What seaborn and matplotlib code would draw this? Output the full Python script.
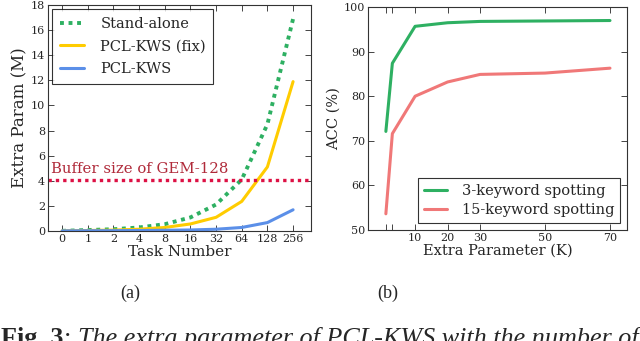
import seaborn as sns
import pandas as pd
import matplotlib
matplotlib.use("Agg")
import matplotlib.pyplot as plt

# panel (a): extra params vs task number
task_labels = ["0", "1", "2", "4", "8", "16", "32", "64", "128", "256"]
stand_alone = [0.0, 0.066, 0.13, 0.27, 0.53, 1.07, 2.1, 4.1, 8.5, 16.9]
pcl_fix = [0.0, 0.03, 0.06, 0.13, 0.27, 0.55, 1.08, 2.35, 5.1, 11.9]
pcl_kws = [0.0, 0.01, 0.015, 0.03, 0.05, 0.07, 0.13, 0.27, 0.66, 1.68]
buffer_gem128 = 4.05

# panel (b): accuracy vs extra parameter
extra_k = [1, 3, 10, 20, 30, 50, 70]
acc_3kw = [72.1, 87.4, 95.7, 96.5, 96.8, 96.9, 97.0]
acc_15kw = [53.6, 71.6, 80.0, 83.2, 84.9, 85.2, 86.3]

sns.set_style("ticks")
plt.rcParams["font.family"] = ["DejaVu Serif"]
plt.rcParams["xtick.direction"] = "in"
plt.rcParams["ytick.direction"] = "in"

fig = plt.figure(figsize=(6.4, 3.41), dpi=100)
ax1 = fig.add_axes([0.075, 0.323, 0.411, 0.662])
ax2 = fig.add_axes([0.575, 0.326, 0.405, 0.653])

pos = list(range(len(task_labels)))
sns.lineplot(x=pos, y=stand_alone, ax=ax1, color="#2eb062", lw=2.8,
             linestyle=(0, (1, 1.2)), label="Stand-alone")
sns.lineplot(x=pos, y=pcl_fix, ax=ax1, color="#ffcc00", lw=2.2, label="PCL-KWS (fix)")
sns.lineplot(x=pos, y=pcl_kws, ax=ax1, color="#5b8fe8", lw=2.2, label="PCL-KWS")
ax1.axhline(buffer_gem128, color="#dd1144", lw=2.4, linestyle=(0, (1, 1.2)))
ax1.text(-0.42, buffer_gem128 + 0.55, "Buffer size of GEM-128", color="#b02a3a", fontsize=10.7)
ax1.set_xlim(-0.55, 9.7)
ax1.set_ylim(0, 18)
ax1.set_xticks(pos)
ax1.set_xticklabels(task_labels)
ax1.set_yticks(range(0, 19, 2))
ax1.set_xlabel("Task Number", fontsize=11, labelpad=1)
ax1.set_ylabel("Extra Param (M)", fontsize=12, labelpad=2)
leg1 = ax1.legend(loc="upper left", fontsize=10.5, fancybox=False, edgecolor="black",
                  handlelength=1.7, handletextpad=1.1, borderaxespad=0.3,
                  labelspacing=0.6, borderpad=0.5)
leg1.get_frame().set_linewidth(0.8)

sns.lineplot(x=extra_k, y=acc_3kw, ax=ax2, color="#2eb062", lw=2.2, label="3-keyword spotting")
sns.lineplot(x=extra_k, y=acc_15kw, ax=ax2, color="#f07878", lw=2.2, label="15-keyword spotting")
ax2.set_xlim(-4.5, 75.3)
ax2.set_ylim(50, 100)
ax2.set_xticks(extra_k)
ax2.set_xticklabels(["", ""] + [str(k) for k in extra_k[2:]])
ax2.set_yticks(range(50, 101, 10))
ax2.set_xlabel("Extra Parameter (K)", fontsize=10.5, labelpad=1)
ax2.set_ylabel("ACC (%)", fontsize=10.5, labelpad=2)
leg2 = ax2.legend(loc="lower right", fontsize=10.5, fancybox=False, edgecolor="black",
                  handlelength=1.6, handletextpad=1.0, borderaxespad=0.5,
                  labelspacing=0.35, borderpad=0.4)
leg2.get_frame().set_linewidth(0.8)

for ax in (ax1, ax2):
    ax.tick_params(labelsize=8, top=True, right=True, length=4, width=0.6, pad=2)
    for s in ax.spines.values():
        s.set_linewidth(0.8)
        s.set_color("#333333")

cap = dict(family="Liberation Serif", fontsize=13)
fig.text(0.203, 0.126, "(a)", ha="center", va="baseline", **cap)
fig.text(0.606, 0.126, "(b)", ha="center", va="baseline", **cap)

# caption line, cut at the bottom of the figure
y0 = -0.012
fig.canvas.draw()
r = fig.canvas.get_renderer()
x = 0.002
for txt, kw in [("Fig. 3", dict(weight="bold")), (": ", {}),
                ("The extra parameter of PCL-KWS with the number of", dict(style="italic"))]:
    t = fig.text(x, y0, txt, family="Liberation Serif", fontsize=18.8, va="baseline", **kw)
    x = t.get_window_extent(r).x1 / fig.bbox.width

fig.savefig("out.png", dpi=100)
